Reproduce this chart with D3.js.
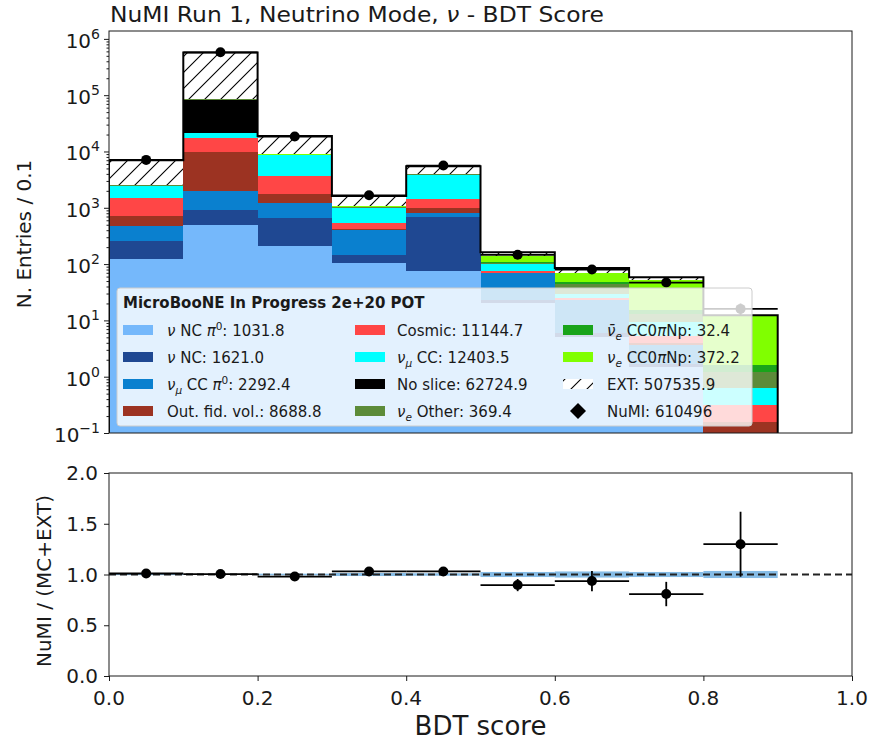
<!DOCTYPE html>
<html>
<head>
<meta charset="utf-8">
<script src="https://cdn.jsdelivr.net/npm/d3@7"></script>
<style>
  body { margin: 0; background: #fff; }
  svg { display: block; font-family: "DejaVu Sans", sans-serif; }
</style>
</head>
<body>
<svg id="chart" width="869" height="742"></svg>
<script>
// ---- BDT score bins (lower edges, width 0.1) ----
const binLow = [0.0, 0.1, 0.2, 0.3, 0.4, 0.5, 0.6, 0.7, 0.8];
const binWidth = 0.1;

// ---- stacked predictions per bin, bottom to top ----
const nuNCpi0       = [125, 500, 210, 103, 75, 20, 5, 1.5, 0];
const nuNC          = [127, 400, 460, 42, 600, 3, 1, 0.2, 0];
const numuCCpi0     = [230, 1100, 540, 258, 140, 46, 17, 2, 0];
const outFidVol     = [236, 7700, 572, 12, 167, 1, 0.5, 0.3, 0.159];
const cosmic        = [800, 7900, 1861, 128, 455, 4, 2, 1.2, 0.155];
const numuCC        = [940, 3400, 5100, 460, 2460, 26, 4, 4, 0.31];
const noSlice       = [0, 62725, 0, 0, 0, 0, 0, 0, 0];
const nueOther      = [40, 154, 80, 20, 50, 6, 15, 4, 0.6];
const nuebarCC0piNp = [1, 3, 3, 6, 10, 3, 4, 2, 0.4];
const nueCC0piNp    = [20, 40, 74, 40, 100, 30, 20, 38, 10.5];
const extBnb        = [4500, 491140, 9900, 550, 1400, 24, 17, 5, 0.2];

// ---- NuMI data ----
const numiData      = [7089, 577404, 18424, 1668, 5621, 146, 80, 47, 16];
const numiErr       = [84, 760, 136, 41, 75, 12, 9, 7, 4];
const ratioErr      = [0.012, 0.002, 0.008, 0.025, 0.014, 0.06, 0.10, 0.12, 0.32];
const mcRatioErr    = [0.006, 0.003, 0.008, 0.015, 0.012, 0.025, 0.03, 0.025, 0.035];

// ---- legend totals and tick labels ----
const legendTotals  = [1031.8, 1621.0, 2292.4, 8688.8, 11144.7, 12403.5, 62724.9, 369.4, 32.4, 372.2, 507535.9, 610496];
const xTickValues   = [0.0, 0.2, 0.4, 0.6, 0.8, 1.0];
const ratioTicks    = [0.0, 0.5, 1.0, 1.5, 2.0];
const logExponents  = [-1, 0, 1, 2, 3, 4, 5, 6];

const seriesKeys = ["nuNCpi0", "nuNC", "numuCCpi0", "outFidVol", "cosmic", "numuCC",
                    "noSlice", "nueOther", "nuebarCC0piNp", "nueCC0piNp", "ext"];
const seriesArrays = [nuNCpi0, nuNC, numuCCpi0, outFidVol, cosmic, numuCC,
                      noSlice, nueOther, nuebarCC0piNp, nueCC0piNp, extBnb];
const seriesColors = ["#75b8fb", "#1f4892", "#0a80cf", "#9c3322", "#ff4646", "#00ffff",
                      "#000000", "#5c8b39", "#19a41a", "#80ff00", "url(#hatch)"];

// Legend labels: segments of text (i = italic, sub / sup)
const legendLabels = [
  [{t: "ν", i: 1}, {t: " NC "}, {t: "π", i: 1}, {t: "0", sup: 1}],
  [{t: "ν", i: 1}, {t: " NC"}],
  [{t: "ν", i: 1}, {t: "μ", i: 1, sub: 1}, {t: " CC "}, {t: "π", i: 1}, {t: "0", sup: 1}],
  [{t: "Out. fid. vol."}],
  [{t: "Cosmic"}],
  [{t: "ν", i: 1}, {t: "μ", i: 1, sub: 1}, {t: " CC"}],
  [{t: "No slice"}],
  [{t: "ν", i: 1}, {t: "e", i: 1, sub: 1}, {t: " Other"}],
  [{t: "ν̄", i: 1}, {t: "e", i: 1, sub: 1}, {t: " CC0"}, {t: "π", i: 1}, {t: "Np"}],
  [{t: "ν", i: 1}, {t: "e", i: 1, sub: 1}, {t: " CC0"}, {t: "π", i: 1}, {t: "Np"}],
  [{t: "EXT"}],
  [{t: "NuMI"}]
];

// ---- layout ----
const topAx = {left: 109, right: 852, top: 31, bottom: 433};
const botAx = {left: 109, right: 852, top: 473, bottom: 676};
const ink = "#1a1a1a";

const svg = d3.select("#chart");
const defs = svg.append("defs");

const hatch = defs.append("pattern").attr("id", "hatch")
  .attr("patternUnits", "userSpaceOnUse").attr("width", 16).attr("height", 16);
hatch.append("rect").attr("width", 16).attr("height", 16).attr("fill", "#fff");
hatch.append("path").attr("d", "M-4,4 L4,-4 M0,16 L16,0 M12,20 L20,12")
  .attr("stroke", "#000").attr("stroke-width", 1.1);

defs.append("clipPath").attr("id", "clipTop").append("rect")
  .attr("x", topAx.left).attr("y", topAx.top)
  .attr("width", topAx.right - topAx.left).attr("height", topAx.bottom - topAx.top);

const x = d3.scaleLinear().domain([0, 1]).range([topAx.left, topAx.right]);
const yTop = d3.scaleLog().domain([0.1, 1.38e6]).range([topAx.bottom, topAx.top]);
const yRat = d3.scaleLinear().domain([0, 2]).range([botAx.bottom, botAx.top]);

// table for the stack layout
const table = binLow.map((lo, i) => {
  const row = {lo};
  seriesKeys.forEach((k, j) => row[k] = seriesArrays[j][i]);
  return row;
});
const stacked = d3.stack().keys(seriesKeys)(table);
const totals = table.map((r, i) => d3.sum(seriesArrays, a => a[i]));

// ---- upper panel: stacked histogram ----
const gBars = svg.append("g").attr("clip-path", "url(#clipTop)");
stacked.forEach((layer, j) => {
  gBars.selectAll(null).data(layer.filter(d => d[1] - d[0] > 0)).enter().append("rect")
    .attr("x", d => x(d.data.lo))
    .attr("width", d => x(d.data.lo + binWidth) - x(d.data.lo))
    .attr("y", d => yTop(d[1]))
    .attr("height", d => yTop(Math.max(d[0], 1e-3)) - yTop(d[1]))
    .attr("fill", seriesColors[j])
    .attr("shape-rendering", "crispEdges");
});

// step outline of the total prediction
const stepPts = [[x(binLow[0]), yTop(1e-3)]];
binLow.forEach((lo, i) => {
  stepPts.push([x(lo), yTop(totals[i])]);
  stepPts.push([x(lo + binWidth), yTop(totals[i])]);
});
stepPts.push([x(binLow[binLow.length - 1] + binWidth), yTop(1e-3)]);
gBars.append("path").attr("d", d3.line()(stepPts))
  .attr("fill", "none").attr("stroke", "#000").attr("stroke-width", 2);

// NuMI data points
const gData = gBars.append("g").attr("stroke", "#000").attr("stroke-width", 1.8);
binLow.forEach((lo, i) => {
  const cx = x(lo + binWidth / 2), cy = yTop(numiData[i]);
  gData.append("line").attr("x1", x(lo)).attr("x2", x(lo + binWidth)).attr("y1", cy).attr("y2", cy);
  gData.append("line").attr("x1", cx).attr("x2", cx)
    .attr("y1", yTop(numiData[i] - numiErr[i])).attr("y2", yTop(numiData[i] + numiErr[i]));
  gData.append("circle").attr("cx", cx).attr("cy", cy).attr("r", 5).attr("fill", "#000").attr("stroke", "none");
});

// ---- legend ----
const lg = svg.append("g");
lg.append("rect").attr("x", 117).attr("y", 288).attr("width", 635).attr("height", 138)
  .attr("rx", 3).attr("fill", "#fff").attr("fill-opacity", 0.8)
  .attr("stroke", "#cccccc").attr("stroke-width", 1);
lg.append("text").attr("x", 123).attr("y", 308).attr("font-size", 15)
  .attr("font-weight", "bold").attr("fill", ink).text("MicroBooNE In Progress 2e+20 POT");

function rich(textSel, segs, size) {
  let shift = 0;
  segs.forEach(s => {
    const target = s.sub ? 4 : s.sup ? -6 : 0;
    const ts = textSel.append("tspan").text(s.t).attr("dy", target - shift);
    shift = target;
    if (s.i) ts.attr("font-style", "italic");
    if (s.sub || s.sup) ts.attr("font-size", size * 0.7);
  });
  if (shift !== 0) textSel.append("tspan").attr("dy", -shift).text("");
  return textSel;
}

const colPatchX = [123, 355, 563];
const colTextX = [167, 397, 607];
const rowY = [330, 357, 384, 411];
legendLabels.forEach((segs, k) => {
  const col = Math.floor(k / 4), row = k % 4;
  const py = rowY[row];
  if (k < 11) {
    lg.append("rect").attr("x", colPatchX[col]).attr("y", py - 5).attr("width", 30).attr("height", 10)
      .attr("fill", seriesColors[k]);
  } else {
    // errorbar-style marker for the data entry
    const mx = colPatchX[col] + 15;
    lg.append("path").attr("d", `M${mx - 8},${py} L${mx},${py - 8} L${mx + 8},${py} L${mx},${py + 8} Z`)
      .attr("fill", "#000");
    lg.append("circle").attr("cx", mx).attr("cy", py).attr("r", 5).attr("fill", "#000");
  }
  const total = legendTotals[k];
  const valueText = ": " + (k === 11 ? String(total) : total.toFixed(1));
  const t = lg.append("text").attr("x", colTextX[col]).attr("y", py + 5.5)
    .attr("font-size", 15).attr("fill", ink);
  rich(t, segs.concat([{t: valueText}]), 15);
});

// ---- upper panel axes ----
const gTopAxis = svg.append("g").attr("transform", `translate(${topAx.left},0)`);
const majorVals = logExponents.map(e => Math.pow(10, e));
const minorVals = [];
logExponents.forEach(e => { for (let m = 2; m <= 9; m++) { const v = m * Math.pow(10, e); if (v <= yTop.domain()[1]) minorVals.push(v); } });
gTopAxis.call(d3.axisLeft(yTop).tickValues(majorVals).tickSize(5).tickFormat(() => ""));
gTopAxis.append("g").call(d3.axisLeft(yTop).tickValues(minorVals).tickSize(2.5).tickFormat(() => ""));
gTopAxis.selectAll(".domain").remove();
gTopAxis.selectAll("line").attr("stroke", ink);
logExponents.forEach(e => {
  const t = svg.append("text").attr("x", 100).attr("y", yTop(Math.pow(10, e)) + 9)
    .attr("text-anchor", "end").attr("font-size", 20).attr("fill", ink);
  t.append("tspan").text("10");
  t.append("tspan").text(e < 0 ? "\u2212" + Math.abs(e) : String(e)).attr("font-size", 14).attr("dy", -9);
});
svg.append("rect").attr("x", topAx.left).attr("y", topAx.top)
  .attr("width", topAx.right - topAx.left).attr("height", topAx.bottom - topAx.top)
  .attr("fill", "none").attr("stroke", ink).attr("stroke-width", 1);

// title and y label
const title = svg.append("text").attr("x", 110).attr("y", 22).attr("font-size", 21.5).attr("fill", ink)
  .attr("textLength", 494).attr("lengthAdjust", "spacingAndGlyphs");
rich(title, [{t: "NuMI Run 1, Neutrino Mode, "}, {t: "ν", i: 1}, {t: " - BDT Score"}], 21.5);
svg.append("text").attr("transform", "translate(31,234) rotate(-90)")
  .attr("text-anchor", "middle").attr("font-size", 20).attr("fill", ink).text("N. Entries / 0.1");

// ---- lower panel: ratio ----
const gRat = svg.append("g");
binLow.forEach((lo, i) => {
  gRat.append("rect").attr("x", x(lo)).attr("width", x(lo + binWidth) - x(lo))
    .attr("y", yRat(1 + mcRatioErr[i])).attr("height", yRat(1 - mcRatioErr[i]) - yRat(1 + mcRatioErr[i]))
    .attr("fill", "#86bce6");
});
gRat.append("line").attr("x1", botAx.left).attr("x2", botAx.right).attr("y1", yRat(1)).attr("y2", yRat(1))
  .attr("stroke", "#222").attr("stroke-width", 1.8).attr("stroke-dasharray", "7,4");
const gRatPts = gRat.append("g").attr("stroke", "#000").attr("stroke-width", 1.8);
binLow.forEach((lo, i) => {
  const r = numiData[i] / totals[i];
  const cx = x(lo + binWidth / 2), cy = yRat(r);
  gRatPts.append("line").attr("x1", x(lo)).attr("x2", x(lo + binWidth)).attr("y1", cy).attr("y2", cy);
  gRatPts.append("line").attr("x1", cx).attr("x2", cx)
    .attr("y1", yRat(r - ratioErr[i])).attr("y2", yRat(r + ratioErr[i]));
  gRatPts.append("circle").attr("cx", cx).attr("cy", cy).attr("r", 5).attr("fill", "#000").attr("stroke", "none");
});

const gRatY = svg.append("g").attr("transform", `translate(${botAx.left},0)`)
  .call(d3.axisLeft(yRat).tickValues(ratioTicks).tickSize(5).tickFormat(() => ""));
gRatY.selectAll(".domain").remove();
gRatY.selectAll("line").attr("stroke", ink);
ratioTicks.forEach(v => {
  svg.append("text").attr("x", 98).attr("y", yRat(v) + 7).attr("text-anchor", "end")
    .attr("font-size", 20).attr("fill", ink).text(v.toFixed(1));
});
const gRatX = svg.append("g").attr("transform", `translate(0,${botAx.bottom})`)
  .call(d3.axisBottom(x).tickValues(xTickValues).tickSize(5).tickFormat(() => ""));
gRatX.selectAll(".domain").remove();
gRatX.selectAll("line").attr("stroke", ink);
xTickValues.forEach(v => {
  svg.append("text").attr("x", x(v)).attr("y", 705).attr("text-anchor", "middle")
    .attr("font-size", 20).attr("fill", ink).text(v.toFixed(1));
});
svg.append("rect").attr("x", botAx.left).attr("y", botAx.top)
  .attr("width", botAx.right - botAx.left).attr("height", botAx.bottom - botAx.top)
  .attr("fill", "none").attr("stroke", ink).attr("stroke-width", 1);

svg.append("text").attr("transform", "translate(51,581) rotate(-90)")
  .attr("text-anchor", "middle").attr("font-size", 20).attr("fill", ink).text("NuMI / (MC+EXT)");
svg.append("text").attr("x", (botAx.left + botAx.right) / 2).attr("y", 735)
  .attr("text-anchor", "middle").attr("font-size", 26).attr("fill", ink).text("BDT score");
</script>
</body>
</html>
